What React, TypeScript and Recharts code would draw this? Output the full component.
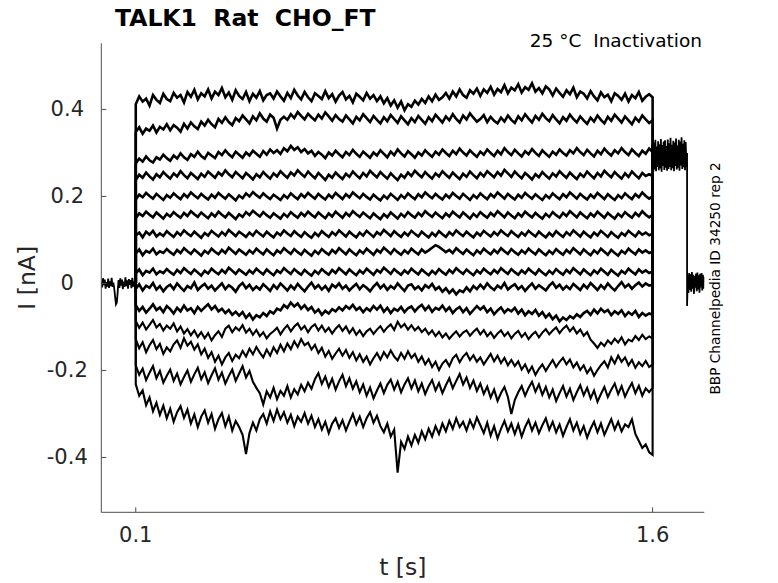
import { LineChart, Line, XAxis, YAxis } from 'recharts'

const FONT = '"DejaVu Sans", sans-serif'
const INK = '#262626'
const AXIS = '#4d4d4d'

const xTicks = [0.1, 1.6]
const yTicks = [-0.4, -0.2, 0, 0.2, 0.4]

// sampling of the recording segments (s)
const preStart = 0
const preStep = 0.0025
const pulseStart = 0.1
const pulseStep = 0.01
const tailStart = 1.6
const tailStep = 0.002
const offStart = 1.7
const offStep = 0.05 / 25

// currents in pA
const preTrace = [
  6, -9, 12, -4, 9, -12, 3, -7, 11, -10,
  5, -6, 13, -8, 2, -11, -30, -48, -44, -20,
  8, -10, 12, -5, 9, -13, 4, -8, 14, -6,
  7, -12, 10, -3, 8, -11, 13, -7, 5, -9,
  0,
]

const sweep1 = [
  412, 430, 418, 425, 409, 433, 422, 415, 436, 424,
  419, 438, 427, 433, 416, 440, 429, 445, 423, 437,
  430, 446, 425, 441, 433, 449, 428, 439, 422, 444,
  431, 424, 440, 419, 436, 427, 442, 421, 433, 437,
  425, 441, 430, 420, 438, 426, 445, 432, 423, 440,
  428, 419, 437, 431, 424, 442, 426, 435, 418, 432,
  440, 423, 431, 416, 436, 429, 421, 438, 425, 433,
  419, 430, 414, 426, 409, 421, 404, 418, 398, 412,
  406, 420, 411, 424, 415, 430, 419, 434, 422, 428,
  438, 425, 441, 430, 446, 433, 427, 444, 436, 448,
  431, 446, 438, 452, 434, 447, 440, 456, 437, 450,
  444, 458, 439, 451, 445, 460, 441, 449, 437, 453,
  446, 432, 448, 438, 429, 444, 435, 450, 428, 441,
  436, 425, 442, 430, 421, 439, 428, 434, 419, 437,
  431, 422, 436, 418, 433, 426, 440, 420, 429, 435,
  428,
]
const sweep2 = [
  348, 359, 344, 356, 351, 363, 347, 360, 354, 366,
  352, 364, 358, 349, 367, 356, 370, 361, 355, 372,
  363, 376, 366, 359, 378, 369, 382, 371, 364, 380,
  373, 386, 377, 368, 384, 375, 391, 379, 372, 388,
  381, 356, 376, 383, 376, 389, 380, 394, 385, 377,
  390, 382, 375, 388, 379, 393, 384, 374, 387, 378,
  372, 386, 377, 368, 383, 375, 389, 380, 371, 385,
  376, 368, 382, 373, 387, 378, 369, 384, 375, 366,
  380, 371, 385, 376, 367, 382, 373, 388, 379, 370,
  384, 375, 389, 378, 370, 386, 377, 391, 381, 372,
  378, 387, 371, 383, 374, 368, 381, 372, 386, 376,
  369, 384, 375, 389, 379, 370, 385, 376, 390, 380,
  373, 387, 377, 368, 382, 374, 388, 378, 370, 384,
  375, 367, 381, 372, 386, 376, 368, 383, 374, 388,
  379, 370, 384, 375, 366, 381, 372, 386, 377, 369,
  375,
]
const sweep3 = [
  276, 287, 280, 292, 283, 278, 290, 285, 296, 288,
  282, 294, 287, 299, 290, 284, 297, 291, 303, 293,
  287, 300, 294, 288, 302, 295, 306, 297, 290, 303,
  296, 289, 301, 294, 305, 298, 291, 304, 296, 308,
  300, 306, 298, 311, 304, 316, 307, 313, 302, 309,
  299, 305, 293, 302, 296, 288, 301, 294, 305, 297,
  290, 302, 295, 307, 298, 291, 303, 296, 289, 301,
  294, 306, 298, 290, 303, 295, 308, 299, 292, 304,
  297, 289, 301, 294, 306, 298, 291, 303, 296, 308,
  300, 293, 305, 297, 310, 301, 294, 306, 298, 291,
  303, 296, 308, 300, 293, 305, 297, 311, 302, 295,
  307, 299, 292, 304, 297, 309, 300, 293, 306, 298,
  291, 303, 296, 308, 300, 294, 306, 299, 311, 302,
  295, 307, 299, 292, 305, 297, 310, 301, 294, 306,
  299, 311, 302, 295, 308, 300, 293, 305, 298, 310,
  302,
]
const sweep4 = [
  238, 250, 243, 255, 246, 239, 251, 244, 256, 248,
  241, 253, 246, 258, 249, 242, 254, 247, 240, 252,
  245, 257, 250, 243, 255, 248, 260, 251, 244, 256,
  249, 242, 254, 247, 239, 251, 244, 256, 248, 241,
  253, 246, 258, 250, 243, 255, 248, 260, 252, 245,
  257, 249, 242, 254, 246, 238, 250, 243, 255, 247,
  240, 252, 245, 257, 249, 242, 254, 246, 259, 251,
  244, 256, 248, 241, 253, 245, 238, 250, 243, 255,
  247, 259, 251, 244, 256, 248, 241, 253, 246, 258,
  250, 243, 255, 247, 240, 252, 245, 257, 249, 242,
  254, 246, 258, 251, 244, 256, 248, 261, 253, 245,
  257, 249, 242, 254, 247, 239, 251, 244, 256, 248,
  241, 253, 246, 258, 250, 243, 255, 247, 240, 252,
  245, 257, 249, 242, 254, 246, 259, 251, 244, 256,
  248, 241, 253, 245, 257, 249, 242, 254, 247, 251,
  247,
]
const sweep5 = [
  193, 204, 198, 208, 201, 195, 206, 199, 192, 203,
  197, 207, 200, 194, 205, 198, 209, 202, 196, 206,
  199, 193, 204, 197, 208, 201, 195, 205, 198, 191,
  202, 196, 207, 200, 210, 203, 197, 207, 200, 194,
  204, 198, 192, 203, 196, 207, 200, 194, 205, 198,
  208, 201, 195, 206, 199, 193, 204, 197, 208, 201,
  194, 205, 198, 209, 202, 196, 206, 199, 193, 204,
  197, 191, 202, 195, 206, 199, 192, 203, 196, 207,
  200, 194, 205, 198, 209, 202, 196, 206, 199, 193,
  204, 197, 208, 201, 195, 206, 199, 192, 203, 196,
  207, 200, 194, 205, 198, 209, 202, 195, 206, 199,
  193, 204, 197, 208, 201, 195, 205, 198, 192, 203,
  196, 207, 200, 194, 205, 198, 209, 202, 195, 206,
  199, 193, 204, 197, 208, 201, 194, 205, 198, 192,
  203, 196, 207, 200, 194, 205, 198, 209, 201, 195,
  200,
]
const sweep6 = [
  150, 161, 155, 165, 158, 152, 163, 156, 149, 160,
  154, 164, 157, 151, 162, 155, 166, 159, 153, 163,
  156, 150, 161, 154, 165, 158, 152, 162, 155, 148,
  159, 153, 164, 157, 167, 160, 154, 164, 157, 151,
  161, 155, 149, 160, 153, 164, 157, 151, 162, 155,
  165, 158, 152, 163, 156, 150, 161, 154, 165, 158,
  151, 162, 155, 166, 159, 153, 163, 156, 150, 161,
  154, 148, 159, 152, 163, 156, 149, 160, 153, 164,
  157, 151, 162, 155, 166, 159, 153, 163, 156, 150,
  161, 154, 165, 158, 152, 163, 156, 149, 160, 153,
  164, 157, 151, 162, 155, 166, 159, 152, 163, 156,
  150, 161, 154, 165, 158, 152, 162, 155, 149, 160,
  153, 164, 157, 151, 162, 155, 166, 159, 152, 163,
  156, 150, 161, 154, 165, 158, 151, 162, 155, 149,
  160, 153, 164, 157, 151, 162, 155, 166, 158, 152,
  158,
]
const sweep7 = [
  110, 117, 106, 119, 112, 121, 108, 115, 109, 120,
  113, 107, 118, 111, 122, 115, 109, 119, 112, 105,
  116, 110, 121, 114, 108, 118, 111, 123, 116, 109,
  119, 113, 107, 117, 110, 121, 114, 108, 119, 112,
  106, 117, 111, 122, 115, 109, 120, 113, 107, 118,
  111, 105, 116, 109, 120, 113, 107, 118, 111, 122,
  115, 108, 119, 112, 106, 117, 110, 121, 114, 107,
  118, 112, 123, 116, 109, 120, 113, 107, 117, 110,
  121, 114, 108, 119, 112, 106, 116, 109, 120, 113,
  107, 118, 111, 122, 115, 109, 119, 112, 106, 117,
  110, 121, 114, 108, 118, 111, 122, 115, 109, 120,
  113, 107, 117, 110, 121, 114, 108, 119, 112, 106,
  116, 109, 120, 113, 107, 118, 111, 122, 115, 108,
  119, 112, 106, 117, 110, 121, 114, 107, 118, 111,
  105, 116, 110, 121, 114, 108, 119, 112, 117, 111,
  114,
]
const sweep8 = [
  69, 78, 65, 75, 71, 80, 67, 74, 70, 79,
  72, 66, 77, 70, 81, 74, 68, 78, 71, 64,
  75, 69, 80, 73, 67, 77, 70, 82, 75, 68,
  78, 72, 66, 76, 69, 80, 73, 67, 78, 71,
  65, 76, 70, 81, 74, 68, 79, 72, 66, 77,
  70, 64, 75, 68, 79, 72, 66, 77, 70, 81,
  74, 67, 78, 71, 65, 76, 69, 80, 73, 66,
  77, 71, 82, 75, 68, 79, 72, 66, 76, 69,
  80, 73, 67, 78, 71, 76, 82, 88, 84, 78,
  72, 77, 70, 81, 74, 68, 78, 71, 65, 76,
  69, 80, 73, 67, 77, 70, 81, 74, 68, 79,
  72, 66, 76, 69, 80, 73, 67, 78, 71, 65,
  75, 68, 79, 72, 66, 77, 70, 81, 74, 67,
  78, 71, 65, 76, 69, 80, 73, 66, 77, 70,
  64, 75, 69, 80, 73, 67, 78, 71, 76, 70,
  73,
]
const sweep9 = [
  23, 32, 19, 29, 25, 34, 21, 28, 24, 33,
  26, 20, 31, 24, 35, 28, 22, 32, 25, 18,
  29, 23, 34, 27, 21, 31, 24, 36, 29, 22,
  32, 26, 20, 30, 23, 34, 27, 21, 32, 25,
  19, 30, 24, 35, 28, 22, 33, 26, 20, 31,
  24, 18, 29, 22, 33, 26, 20, 31, 24, 35,
  28, 21, 32, 25, 19, 30, 23, 34, 27, 20,
  31, 25, 36, 29, 22, 33, 26, 20, 30, 23,
  34, 27, 21, 32, 25, 19, 29, 22, 33, 26,
  20, 31, 24, 35, 28, 22, 32, 25, 19, 30,
  23, 34, 27, 21, 31, 24, 35, 28, 22, 33,
  26, 20, 30, 23, 34, 27, 21, 32, 25, 19,
  29, 22, 33, 26, 20, 31, 24, 35, 28, 21,
  32, 25, 19, 30, 23, 34, 27, 20, 31, 24,
  18, 29, 23, 34, 27, 21, 32, 25, 30, 24,
  27,
]
const sweep10 = [
  -12, -2, -16, -5, -10, 1, -14, -6, -18, -8,
  -3, -13, 0, -9, -17, -6, -11, 2, -15, -7,
  -1, -12, -5, -16, -8, 0, -13, -4, -10, -19,
  -6, 1, -11, -3, -15, -7, -14, -2, -9, -17,
  -4, -12, 0, -8, -16, -5, -13, -1, -10, -18,
  -7, 2, -11, -4, -14, -6, -17, -3, -9, 0,
  -12, -5, -16, -8, -1, -13, -4, -10, -18, -7,
  1, -11, -3, -15, -6, -12, 0, -9, -17, -5,
  -2, -13, -7, -16, -4, -10, -1, -14, -8, -19,
  -11, -22, -14, -25, -16, -20, -9, -18, -6, -13,
  -3, -12, 0, -9, -15, -5, -11, 1, -14, -7,
  -2, -13, -6, -17, -8, 0, -12, -4, -10, -16,
  -5, 2, -10, -3, -14, -6, -13, -1, -8, -15,
  -3, -11, 1, -7, -15, -4, -12, 0, -9, -16,
  -6, 3, -9, -2, -12, -4, 2, -7, 0, -5,
  -3,
]
const sweep11 = [
  -50, -63, -54, -67, -58, -48, -61, -55, -66, -52,
  -59, -69, -56, -64, -51, -62, -57, -68, -54, -63,
  -55, -48, -60, -52, -64, -58, -68, -61, -72, -65,
  -74, -66, -79, -70, -83, -73, -78, -68, -75, -64,
  -69, -58, -62, -50, -56, -44, -53, -46, -58, -50,
  -61, -54, -67, -60, -72, -63, -69, -59, -64, -55,
  -62, -52, -58, -49, -61, -55, -66, -57, -63, -52,
  -60, -51, -65, -56, -68, -58, -63, -54, -66, -57,
  -53, -64, -55, -49, -61, -52, -65, -56, -60, -51,
  -63, -55, -68, -59, -54, -66, -57, -70, -61, -52,
  -60, -53, -66, -58, -71, -62, -55, -67, -59, -64,
  -56, -69, -60, -73, -64, -70, -61, -74, -66, -78,
  -70, -82, -74, -87, -78, -84, -75, -80, -71, -77,
  -68, -63, -72, -60, -69, -58, -66, -61, -73, -64,
  -70, -62, -75, -66, -72, -63, -77, -68, -74, -69,
  -72,
]
const sweep12 = [
  -86, -102, -90, -106, -95, -84, -101, -93, -108, -97,
  -104, -92, -110, -99, -115, -105, -119, -108, -123, -112,
  -126, -114, -131, -119, -110, -123, -104, -97, -112, -101,
  -108, -96, -113, -104, -118, -107, -121, -112, -126, -116,
  -110, -102, -117, -105, -96, -110, -99, -92, -106, -98,
  -112, -100, -94, -108, -97, -111, -102, -115, -104, -96,
  -109, -99, -114, -103, -118, -108, -121, -110, -104, -116,
  -106, -98, -111, -101, -94, -107, -88, -101, -93, -106,
  -96, -108, -100, -112, -104, -117, -108, -121, -111, -124,
  -115, -127, -118, -110, -122, -113, -108, -120, -111, -104,
  -117, -107, -121, -112, -125, -115, -108, -121, -112, -126,
  -116, -109, -123, -114, -128, -118, -111, -124, -113, -105,
  -117, -108, -101, -114, -104, -97, -110, -101, -115, -106,
  -120, -112, -129, -138, -148, -136, -144, -131, -139, -127,
  -136, -124, -140, -129, -133, -121, -130, -118, -128, -122,
  -126,
]
const sweep13 = [
  -128, -149, -135, -158, -142, -130, -151, -139, -162, -147,
  -156, -140, -131, -148, -126, -143, -134, -152, -140, -163,
  -150, -171, -158, -180, -166, -186, -170, -160, -178, -164,
  -172, -155, -168, -150, -163, -146, -159, -170, -152, -166,
  -147, -160, -141, -156, -138, -151, -133, -146, -128, -142,
  -136, -152, -141, -160, -148, -168, -155, -173, -161, -150,
  -166, -153, -171, -158, -177, -163, -180, -168, -186, -172,
  -160, -175, -158, -170, -154, -168, -177, -160, -173, -156,
  -171, -162, -180, -168, -186, -174, -192, -180, -199, -184,
  -176, -190, -172, -164, -181, -168, -160, -176, -165, -180,
  -170, -186, -174, -162, -179, -166, -183, -171, -188, -176,
  -190, -179, -198, -186, -204, -191, -210, -196, -186, -201,
  -188, -176, -192, -180, -171, -186, -175, -193, -182, -199,
  -188, -206, -194, -212, -199, -188, -179, -193, -170, -184,
  -166, -180, -170, -188, -176, -194, -181, -190, -178, -192,
  -186,
]
const sweep14 = [
  -188, -210, -196, -222, -205, -190, -218, -201, -228, -212,
  -198, -224, -207, -232, -215, -200, -226, -209, -194, -220,
  -204, -229, -211, -195, -221, -205, -230, -213, -198, -224,
  -207, -190, -216, -201, -226, -240, -252, -278, -248, -262,
  -240, -266, -247, -258, -236, -262, -243, -255, -233, -248,
  -228, -242, -220, -206, -231, -214, -238, -219, -244, -225,
  -210, -236, -218, -242, -225, -250, -232, -258, -239, -264,
  -246, -230, -252, -233, -221, -244, -226, -250, -232, -218,
  -241, -223, -248, -230, -254, -236, -222, -246, -229, -252,
  -234, -218, -241, -224, -208, -232, -216, -240, -223, -247,
  -230, -254, -237, -262, -244, -270, -252, -238, -261, -300,
  -268, -250, -236, -258, -240, -226, -249, -232, -256, -238,
  -262, -244, -270, -252, -236, -260, -242, -268, -250, -234,
  -257, -240, -264, -246, -272, -254, -238, -261, -244, -230,
  -254, -236, -260, -243, -229, -252, -235, -258, -241, -250,
  -240,
]
const sweep15 = [
  -232, -258, -246, -280, -262, -294, -274, -302, -281, -310,
  -288, -318, -296, -282, -309, -290, -322, -301, -330, -306,
  -292, -320, -300, -334, -312, -298, -328, -306, -338, -316,
  -330, -348, -392, -344, -320, -338, -312, -300, -322, -294,
  -316, -290, -312, -296, -320, -302, -328, -306, -318, -298,
  -322, -304, -330, -312, -336, -318, -344, -322, -310, -332,
  -314, -338, -318, -300, -324, -306, -330, -310, -296, -320,
  -304, -328, -342, -322, -352, -336, -435, -364, -380, -352,
  -372, -348, -366, -340, -358, -334, -352, -328, -346, -322,
  -340, -316, -334, -310, -330, -318, -338, -314, -332, -308,
  -326, -344, -320, -350, -328, -356, -334, -316, -340, -322,
  -346, -324, -352, -330, -314, -338, -320, -344, -326, -310,
  -336, -318, -342, -324, -350, -330, -312, -338, -320, -346,
  -328, -354, -334, -318, -342, -322, -348, -330, -312, -336,
  -318, -340, -324, -330, -312, -346, -362, -378, -370, -388,
  -394,
]

const tailTrace = [
  318, 256, 324, 262, 330, 258, 315, 268, 327, 260,
  320, 264, 332, 257, 318, 270, 326, 261, 329, 266,
  316, 259, 331, 263, 322, 268, 335, 260, 319, 265,
  328, 258, 324, 270, 333, 262, 317, 266, 330, 259,
  326, 271, 336, 263, 321, 267, 329, 260, 325, 268,
  300,
]
const offTrace = [
  -52, 18, -22, 24, -15, 21, -19, 26, -12, 20,
  -24, 17, -10, 23, -18, 25, -14, 19, -21, 22,
  -9, 24, -16, 20, -12, 15,
]

const sweeps = [
  sweep1, sweep2, sweep3, sweep4, sweep5, sweep6, sweep7, sweep8,
  sweep9, sweep10, sweep11, sweep12, sweep13, sweep14, sweep15,
]
const keys = sweeps.map((_, i) => `s${i + 1}`)

type Row = { t: number; [k: string]: number }
const rows: Row[] = []
preTrace.forEach((v, i) => rows.push({ t: preStart + i * preStep, base: v / 1000 }))
// every sweep leaves the holding level at the step onset
const onset = rows[rows.length - 1]
keys.forEach((k) => { onset[k] = preTrace[preTrace.length - 1] / 1000 })
sweep1.forEach((_, i) => {
  const r: Row = { t: pulseStart + i * pulseStep }
  sweeps.forEach((s, j) => { if (s[i] !== undefined) r[keys[j]] = s[i] / 1000 })
  rows.push(r)
})
tailTrace.forEach((v, i) => {
  const r: Row = { t: tailStart + i * tailStep, base: v / 1000 }
  if (i === 0) keys.forEach((k) => { r[k] = v / 1000 })
  rows.push(r)
})
offTrace.forEach((v, i) => rows.push({ t: offStart + i * offStep, base: v / 1000 }))

function YTick({ x, y, payload }: any) {
  return (
    <g>
      <line x1={x} x2={x + 5} y1={y} y2={y} stroke={AXIS} />
      <text x={x - 34} y={y} textAnchor="middle" dominantBaseline="central"
        fontFamily={FONT} fontSize={21} fill={INK}>
        {String(payload.value)}
      </text>
    </g>
  )
}

function XTick({ x, y, payload }: any) {
  return (
    <g>
      <line x1={x} x2={x} y1={y} y2={y - 5} stroke={AXIS} />
      <text x={x} y={y + 29.4} textAnchor="middle" fontFamily={FONT} fontSize={21} fill={INK}>
        {String(payload.value)}
      </text>
    </g>
  )
}

export default function App() {
  return (
    <div style={{ position: 'absolute', left: 0, top: 0, width: 778, height: 583, background: '#fff' }}>
      <LineChart width={778} height={583} data={rows}
        margin={{ top: 43.3, right: 73.7, bottom: 30.7, left: 41.3 }}>
        <XAxis type="number" dataKey="t" domain={[0, 1.75]} allowDataOverflow ticks={xTicks}
          interval={0} height={40} tickLine={false} tickSize={0} tickMargin={0}
          axisLine={{ stroke: AXIS }} tick={<XTick />} />
        <YAxis type="number" domain={[-0.526, 0.552]} allowDataOverflow ticks={yTicks}
          interval={0} width={60} tickLine={false} tickSize={0} tickMargin={0}
          axisLine={{ stroke: AXIS }} tick={<YTick />} />
        <Line dataKey="base" type="linear" stroke="#000" strokeWidth={1.8} dot={false}
          activeDot={false} isAnimationActive={false} />
        {keys.map((k, i) => (
          <Line key={k} dataKey={k} type="linear" stroke="#000" strokeWidth={i < 11 ? 2.6 : 2.1}
            strokeLinejoin="miter" dot={false} activeDot={false} isAnimationActive={false} />
        ))}
      </LineChart>
      <svg width={778} height={583} style={{ position: 'absolute', left: 0, top: 0, pointerEvents: 'none' }}>
        <text x={115} y={26} fontFamily={FONT} fontSize={23.5} fontWeight="bold" fill="#000"
          style={{ whiteSpace: 'pre' }}>TALK1  Rat  CHO_FT</text>
        <text x={702} y={47} textAnchor="end" fontFamily={FONT} fontSize={18.5} fill="#000"
          style={{ whiteSpace: 'pre' }}>25 °C  Inactivation</text>
        <text transform="translate(720,278.5) rotate(-90)" textAnchor="middle" fontFamily={FONT}
          fontSize={13.7} fill="#000">BBP Channelpedia ID 34250 rep 2</text>
        <text transform="translate(35,277.8) rotate(-90)" textAnchor="middle" fontFamily={FONT}
          fontSize={23.5} fill={INK}>I [nA]</text>
        <text x={402.8} y={575} textAnchor="middle" fontFamily={FONT} fontSize={23.5} fill={INK}>t [s]</text>
      </svg>
    </div>
  )
}
